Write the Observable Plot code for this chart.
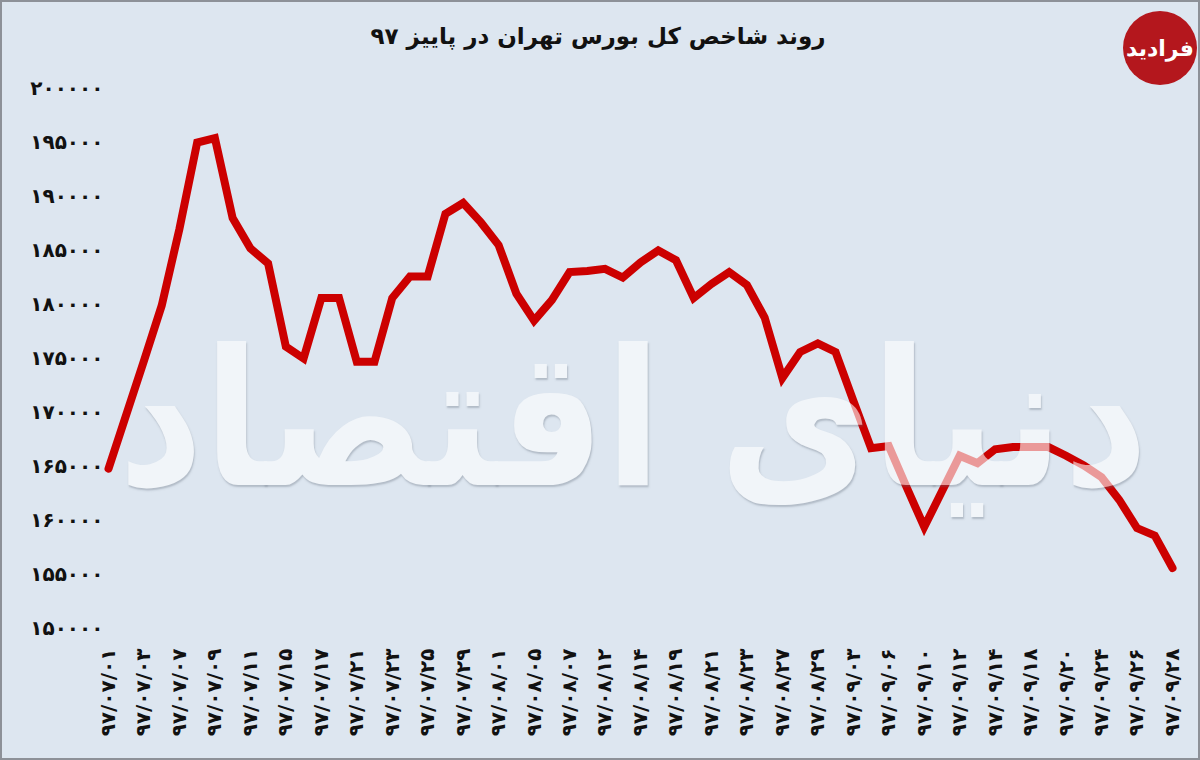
<!DOCTYPE html>
<html><head><meta charset="utf-8">
<script src="https://cdn.jsdelivr.net/npm/d3@7"></script>
<script src="https://cdn.jsdelivr.net/npm/@observablehq/plot@0.6"></script>
<style>
body{margin:0;background:#fff;}
#wrap{position:relative;width:1200px;height:760px;background:#dde6f0;box-shadow:inset 0 0 0 2px #8d9198;overflow:hidden;font-family:"DejaVu Sans",sans-serif;}
#title{position:absolute;left:0;top:23px;width:1196px;text-align:center;font-size:23px;font-weight:bold;direction:rtl;color:#111;}
#chart{position:absolute;left:0;top:70px;}
#logo{position:absolute;left:1123px;top:11px;width:74px;height:74px;border-radius:50%;background:#b4171d;color:#fff;display:flex;align-items:center;justify-content:center;font-weight:bold;font-size:22px;direction:rtl;}
#wm{position:absolute;left:118px;top:270px;width:1030px;height:300px;direction:rtl;white-space:nowrap;font-family:"DejaVu Sans",sans-serif;font-weight:bold;font-size:190px;line-height:300px;color:#ffffff;opacity:0.6;text-shadow:1px 2px 2px rgba(90,100,115,0.55);pointer-events:none;}
#wm span{display:inline-block;transform-origin:right center;}
</style></head>
<body>
<div id="wrap">
  <div id="title">روند شاخص کل بورس تهران در پاییز ۹۷</div>
  <div id="logo">فرادید</div>
  <div id="chart"></div>
  <div id="wm"><span>دنیای اقتصاد</span></div>
</div>
<script>
// trading days (every day plotted), autumn 1397
const dates = [
  "97/07/01","97/07/02","97/07/03","97/07/04","97/07/07","97/07/08","97/07/09","97/07/10","97/07/11","97/07/14",
  "97/07/15","97/07/16","97/07/17","97/07/18","97/07/21","97/07/22","97/07/23","97/07/24","97/07/25","97/07/28",
  "97/07/29","97/07/30","97/08/01","97/08/02","97/08/05","97/08/06","97/08/07","97/08/08","97/08/12","97/08/13",
  "97/08/14","97/08/15","97/08/19","97/08/20","97/08/21","97/08/22","97/08/23","97/08/26","97/08/27","97/08/28",
  "97/08/29","97/08/30","97/09/03","97/09/04","97/09/06","97/09/07","97/09/10","97/09/11","97/09/12","97/09/13",
  "97/09/14","97/09/17","97/09/18","97/09/19","97/09/20","97/09/21","97/09/24","97/09/25","97/09/26","97/09/27",
  "97/09/28"
];
// total index values
const values = [
  164800,169800,174800,179900,187000,195000,195400,188000,185200,183800,
  176100,175000,180600,180600,174700,174700,180600,182600,182600,188400,
  189400,187600,185500,181000,178500,180400,183000,183100,183300,182500,
  183900,185000,184100,180600,181900,183000,181800,178800,173200,175600,
  176400,175600,171100,166700,166900,163100,159400,162700,166000,165300,
  166600,166800,166800,166800,166000,165100,164000,161900,159300,158600,
  155600
];
// labelled dates on the x axis
const tickDates = [
  "97/07/01","97/07/03","97/07/07","97/07/09","97/07/11","97/07/15","97/07/17","97/07/21","97/07/23","97/07/25",
  "97/07/29","97/08/01","97/08/05","97/08/07","97/08/12","97/08/14","97/08/19","97/08/21","97/08/23","97/08/27",
  "97/08/29","97/09/03","97/09/06","97/09/10","97/09/12","97/09/14","97/09/18","97/09/20","97/09/24","97/09/26",
  "97/09/28"
];
const yTicks = [150000,155000,160000,165000,170000,175000,180000,185000,190000,195000,200000];

const faDigits = "۰۱۲۳۴۵۶۷۸۹";
const fa = v => String(v).replace(/[0-9]/g, d => faDigits[+d]);

const data = dates.map((d, i) => ({date: d, value: values[i]}));

const chart = Plot.plot({
  width: 1200,
  height: 690,
  marginLeft: 108,
  marginRight: 28,
  marginTop: 18,
  marginBottom: 132,
  style: {background: "transparent", fontFamily: "DejaVu Sans, sans-serif", color: "#111"},
  x: {type: "point", domain: dates, padding: 0},
  y: {domain: [150000, 200000]},
  marks: [
    Plot.axisX(tickDates, {tickSize: 0, tickPadding: 20, tickRotate: -90, tickFormat: fa, fontSize: 20, fontWeight: "bold", label: null}),
    Plot.axisY(yTicks, {tickSize: 0, tickPadding: 5, tickFormat: fa, fontSize: 20, fontWeight: "bold", label: null}),
    Plot.line(data, {x: "date", y: "value", stroke: "#cc0000", strokeWidth: 8, strokeLinejoin: "miter", strokeMiterlimit: 3})
  ]
});
document.getElementById("chart").appendChild(chart);

// fit the watermark into its box
const wmSpan = document.querySelector("#wm span");
const w = wmSpan.getBoundingClientRect().width;
if (w > 0) wmSpan.style.transform = `scaleX(${1030 / w})`;
</script>
</body></html>
